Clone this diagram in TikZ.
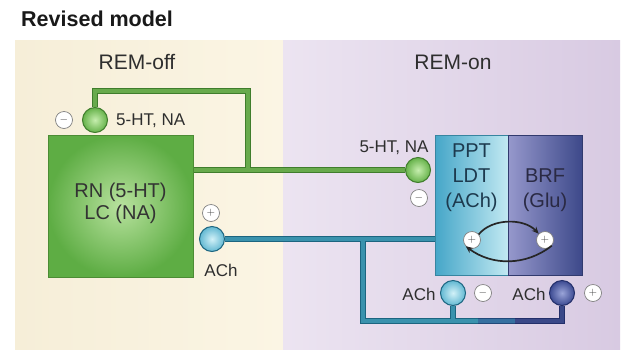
\documentclass[tikz,border=0pt]{standalone}
\usepackage{fontspec}
\setmainfont{Liberation Sans}
\usetikzlibrary{arrows.meta}
\definecolor{creamA}{HTML}{F6EED8}
\definecolor{creamB}{HTML}{FBF5E4}
\definecolor{lavA}{HTML}{ECE4F1}
\definecolor{lavB}{HTML}{D8CAE2}
\definecolor{txt}{HTML}{2E2E2E}
\definecolor{gdark}{HTML}{3F7D2C}
\definecolor{glight}{HTML}{68AA4C}
\definecolor{tdark}{HTML}{1C6580}
\definecolor{tlight}{HTML}{3A92AD}
\definecolor{mdark}{HTML}{21497A}
\definecolor{mlight}{HTML}{3670A0}
\definecolor{ddark}{HTML}{232F6A}
\definecolor{dlight}{HTML}{3A4888}
\definecolor{gboxin}{HTML}{B8E29E}
\definecolor{gboxout}{HTML}{5EAD44}
\definecolor{gboxline}{HTML}{4C8C34}
\definecolor{pptL}{HTML}{45A6C8}
\definecolor{pptR}{HTML}{C2E9F2}
\definecolor{brfL}{HTML}{9698CC}
\definecolor{brfR}{HTML}{3D498A}
\definecolor{gcin}{HTML}{C6EEAE}
\definecolor{gcout}{HTML}{66B24A}
\definecolor{ccin}{HTML}{D2F1F8}
\definecolor{ccout}{HTML}{62B8D2}
\definecolor{dcin}{HTML}{9AA4D8}
\definecolor{dcout}{HTML}{3C4A92}
\definecolor{ppttc}{HTML}{1D3A4E}
\definecolor{brftc}{HTML}{2A2A44}
\pgfdeclarelayer{bg}
\pgfdeclarelayer{lines}
\pgfsetlayers{bg,lines,main}
\begin{document}
\begin{tikzpicture}[x=1pt,y=-1pt,
  lbl/.style={font=\fontsize{17}{20}\selectfont, text=txt, inner sep=0pt},
  head/.style={font=\fontsize{21}{25}\selectfont, text=txt, inner sep=0pt},
  signc/.style={circle, draw=black!50, line width=0.7pt, fill=white, minimum size=17pt, inner sep=0pt, font=\fontsize{11}{11}\selectfont, text=black!75},
  ballnode/.style={circle, minimum size=25pt, inner sep=0pt, line width=1pt},
  gout/.style={line width=6.5pt, draw=gdark},
  gin/.style={line width=4.3pt, draw=glight},
  tout/.style={line width=6.5pt, draw=tdark},
  tin/.style={line width=4.3pt, draw=tlight},
  mout/.style={line width=6.5pt, draw=mdark},
  min/.style={line width=4.3pt, draw=mlight},
  dout/.style={line width=6.5pt, draw=ddark},
  din/.style={line width=4.3pt, draw=dlight},
  cyc/.style={line width=1.7pt, draw=black!85, -{Stealth[length=7pt,width=6pt]}}
]
\useasboundingbox (0,0) rectangle (621,349);
\begin{pgfonlayer}{bg}
  \fill[left color=creamA, right color=creamB] (15,40) rectangle (283,349);
  \fill[left color=lavA, right color=lavB] (283,40) rectangle (620,349);
  \shade[left color=pptL, right color=pptR] (435,135) rectangle (508,275);
  \shade[left color=brfL, right color=brfR] (508,135) rectangle (582,275);
\end{pgfonlayer}

% title and headings
\node[anchor=west, font=\fontsize{21.5}{25}\selectfont\bfseries, text=black!90, inner sep=0pt] (title) at (21,19) {Revised model};
\node[head] (remoff) at (137,62) {REM-off};
\node[head] (remon) at (453,62) {REM-on};

% boxes
\node[draw=gboxline, line width=1pt, inner color=gboxin, outer color=gboxout, minimum width=145pt, minimum height=142pt] (rnlc) at (120.5,206) {};
\node[font=\fontsize{20}{22}\selectfont, text=black!80, align=center, inner sep=0pt] (rnlct) at (120.5,203) {RN (5-HT)\\LC (NA)};

\node[draw=pptL!80!black, line width=0.8pt, minimum width=73pt, minimum height=140pt] (ppt) at (471.5,205) {};
\node[draw=brfR!80!black, line width=0.8pt, minimum width=74pt, minimum height=140pt] (brf) at (545,205) {};
\node[font=\fontsize{20}{25}\selectfont, text=ppttc, align=center, inner sep=0pt] (ppttext) at (471.5,178) {PPT\\LDT\\(ACh)};
\node[font=\fontsize{20}{25}\selectfont, text=brftc, align=center, inner sep=0pt] (brftext) at (545,190) {BRF\\(Glu)};

% balls
\node[ballnode, draw=gdark, inner color=gcin, outer color=gcout] (gc1) at (95,120) {};
\node[ballnode, draw=gdark, inner color=gcin, outer color=gcout] (gc2) at (418,170) {};
\node[ballnode, draw=tdark, inner color=ccin, outer color=ccout] (bc1) at (212,239) {};
\node[ballnode, draw=tdark, inner color=ccin, outer color=ccout] (cc) at (453,293) {};
\node[ballnode, draw=ddark, inner color=dcin, outer color=dcout] (dc) at (562,293) {};

% sign circles
\node[signc] (m1) at (64,120) {$-$};
\node[signc] (m2) at (419,198) {$-$};
\node[signc] (p1) at (211,213) {$+$};
\node[signc] (p2) at (472,240) {$+$};
\node[signc] (p3) at (545,240) {$+$};
\node[signc] (m3) at (483,293) {$-$};
\node[signc] (p4) at (593,293) {$+$};

% labels
\node[lbl, anchor=west] (l1) at (116,121) {5-HT, NA};
\node[lbl] (l2) at (394,148) {5-HT, NA};
\node[lbl] (l3) at (221,270) {ACh};
\node[lbl] (l4) at (419,294) {ACh};
\node[lbl] (l5) at (529,294) {ACh};

% coordinates
\coordinate (gtop) at (248,91);
\coordinate (gj) at (248,170);
\coordinate (bj) at (363,240);
\coordinate (bbl) at (363,321);
\coordinate (bst) at (453,321);
\coordinate (bmid) at (478,321);
\coordinate (bdk) at (515,321);
\coordinate (bbr) at (562,321);

\begin{pgfonlayer}{lines}
  % green pathway
  \draw[gout] (gc1) |- (gtop) -- (gj);
  \draw[gout] (rnlc.east |- gc2) -- (gc2);
  \draw[gin] (gc1) |- (gtop) -- (gj);
  \draw[gin] (rnlc.east |- gc2) -- (gc2);
  % teal pathway
  \draw[tout] (bc1) -- (ppt.west |- bc1);
  \draw[tout] (bj) -- (bbl) -- (bmid);
  \draw[tout] (bst) -- (cc);
  \draw[tin] (bc1) -- (ppt.west |- bc1);
  \draw[tin] (bj) -- (bbl) -- (bmid);
  \draw[tin] (bst) -- (cc);
  \draw[mout] (bmid) -- (bdk);
  \draw[min] (bmid) -- (bdk);
  \draw[dout] (bdk) -- (bbr) -- (dc);
  \draw[din] (bdk) -- (bbr) -- (dc);
\end{pgfonlayer}

% reciprocal arrows
\draw[cyc] (p2.40) .. controls (492,218) and (524,218) .. (p3.135);
\draw[cyc] (p3.-40) .. controls (526,266) and (492,266) .. (p2.-135);
\end{tikzpicture}
\end{document}
